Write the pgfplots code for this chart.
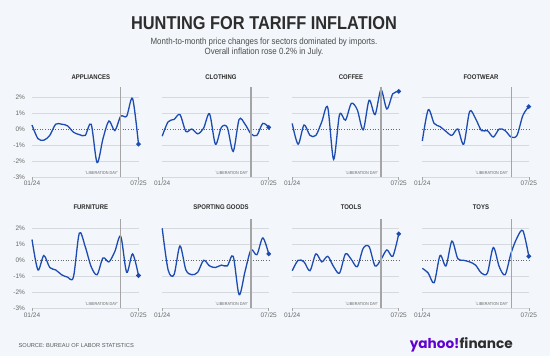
\documentclass[border=0pt]{standalone}
\usepackage{fontspec}
\setmainfont{Liberation Sans}
\newfontfamily\condfont{Liberation Sans}[FakeStretch=0.88]
\newfontfamily\logofont{Poppins}
\usepackage{graphicx}
\usepackage{pgfplots}
\pgfplotsset{compat=1.18}
\usepackage{pgfplotstable}
\definecolor{bg}{RGB}{243,246,250}
\definecolor{lineblue}{RGB}{28,76,178}
\definecolor{gridgray}{RGB}{214,217,222}
\definecolor{ticktext}{RGB}{105,105,105}
\definecolor{titletext}{RGB}{45,45,45}
\definecolor{libgray}{RGB}{165,165,165}
\definecolor{yahoopurple}{RGB}{96,1,210}

\pgfplotstableread{
m app clo cof foo fur spo too toy
0 0.25 -0.45 0.35 -0.75 1.3 2.0 -0.65 -0.5
1 -0.6 0.45 -0.95 1.2 -0.6 -0.6 0 -0.8
2 -0.7 0.6 0.25 0.35 0.3 -0.9 -0.1 -1.4
3 -0.4 0.9 -0.4 0.15 -0.45 0.9 -0.65 0.3
4 0.3 -0.15 -0.4 -0.15 -0.6 -0.6 0.4 -0.35
5 0.3 0 0.45 -0.4 -0.9 -0.9 -0.1 1.2
6 0.2 -0.3 1.35 0 -1.05 -0.75 0.25 0.1
7 -0.2 0.05 -1.9 -0.95 -1.05 0 -0.4 0
8 -0.35 0.95 0.9 1.1 1.7 -0.35 -0.8 -0.1
9 -0.4 -0.95 0.55 0.65 0.85 -0.45 0.4 -0.3
10 0.3 0.1 1.6 -0.1 -0.4 -0.3 0.05 -0.8
11 -2.1 0.1 1.2 -0.1 -0.9 -0.35 -0.4 -0.8
12 -0.6 -1.4 -0.05 -0.5 0.15 0.25 0.75 0.8
13 0.5 0.6 1.8 0 -0.1 -2.15 0.85 -0.4
14 -0.1 0.3 0.9 -0.1 0.55 -0.7 -0.35 -0.9
15 0.8 -0.3 2.45 -0.5 1.5 0.65 0.05 0.45
16 0.8 -0.4 1.25 -0.4 -0.75 0.35 0.65 1.4
17 1.9 0.35 2.2 0.85 0.4 1.4 0.25 1.85
18 -0.95 0.1 2.35 1.4 -0.95 0.4 1.65 0.25
}\data

\pgfplotsset{
  panel/.style={
    scale only axis, width=106.5bp, height=89.6bp,
    anchor=south west,
    xmin=0, xmax=18, ymin=-3, ymax=2.6,
    clip=false,
    axis line style={draw=none},
    tick pos=left,
    xtick={0,18}, xticklabels={01/24,07/25},
    tick align=outside,
    major tick length=2.5bp,
    xtick style={draw=ticktext!60, line width=0.5bp},
    ytick style={draw=none},
    ytick={-3,-2,-1,1,2},
    yticklabels={},
    ymajorgrids,
    grid style={gridgray, line width=0.6bp},
    extra y ticks={0},
    extra y tick labels={},
    extra y tick style={grid style={black!60, dotted, line width=0.7bp}},
    /pgf/number format/assume math mode=true,
    ticklabel style={font=\fontsize{6.5bp}{7bp}\selectfont, text=ticktext},
    xticklabel style={inner sep=1.5bp},
  },
  firstcol/.style={
    yticklabels={-3\%,-2\%,-1\%,1\%,2\%},
    extra y tick labels={0\%},
    yticklabel style={xshift=-1bp},
  },
  series/.style={lineblue, line width=1.3bp, smooth, tension=0.5,
    mark=*, mark indices={19}, mark size=1.6bp, mark options={fill=lineblue, draw=lineblue}},
}

\newcommand{\libday}{%
  \draw[libgray, line width=1.1bp] (axis cs:15,-3) -- (axis cs:15,2.6);
  \node[anchor=east, inner sep=0pt, text=ticktext, font=\condfont\fontsize{4.3bp}{5bp}\selectfont] at (axis cs:14.55,-2.73) {`LIBERATION DAY'};
}

\begin{document}
\begin{tikzpicture}[x=1bp,y=1bp]
\useasboundingbox (0,0) rectangle (550,356);
\fill[bg] (0,0) rectangle (550,356);

% titles
\node[text=titletext, font=\condfont\bfseries\fontsize{18.6bp}{20bp}\selectfont] at (264,333.3) {HUNTING FOR TARIFF INFLATION};
\node[text=black!70, font=\condfont\fontsize{9bp}{10.6bp}\selectfont, align=center] at (264,309) {Month-to-month price changes for sectors dominated by imports.\\Overall inflation rose 0.2\% in July.};

% top row
\begin{axis}[panel, firstcol, at={(32bp,179bp)}]
\addplot[series] table[x=m,y=app] {\data};
\libday
\end{axis}
\begin{axis}[panel, at={(162.2bp,179bp)}]
\addplot[series] table[x=m,y=clo] {\data};
\libday
\end{axis}
\begin{axis}[panel, at={(292.2bp,179bp)}]
\addplot[series] table[x=m,y=cof] {\data};
\libday
\end{axis}
\begin{axis}[panel, at={(422.3bp,179bp)}]
\addplot[series] table[x=m,y=foo] {\data};
\libday
\end{axis}

% bottom row
\begin{axis}[panel, firstcol, at={(32bp,47.7bp)}]
\addplot[series] table[x=m,y=fur] {\data};
\libday
\end{axis}
\begin{axis}[panel, at={(162.2bp,47.7bp)}]
\addplot[series] table[x=m,y=spo] {\data};
\libday
\end{axis}
\begin{axis}[panel, at={(292.2bp,47.7bp)}]
\addplot[series] table[x=m,y=too] {\data};
\libday
\end{axis}
\begin{axis}[panel, at={(422.3bp,47.7bp)}]
\addplot[series] table[x=m,y=toy] {\data};
\libday
\end{axis}

% panel titles
\begin{scope}[every node/.style={text=titletext, font=\condfont\bfseries\fontsize{6.8bp}{8bp}\selectfont}]
\node at (90.8,279.3) {APPLIANCES};
\node at (221,279.3) {CLOTHING};
\node at (351,279.3) {COFFEE};
\node at (481,279.3) {FOOTWEAR};
\node at (90.8,149) {FURNITURE};
\node at (221,149) {SPORTING GOODS};
\node at (351,149) {TOOLS};
\node at (481,149) {TOYS};
\end{scope}

% footer
\node[anchor=west, text=black!65, font=\fontsize{5.7bp}{7bp}\selectfont] at (15,10.3) {SOURCE: BUREAU OF LABOR STATISTICS};
\node[anchor=east, inner sep=0pt] at (513,11) {\resizebox{103bp}{!}{\logofont\bfseries\textcolor{yahoopurple}{yahoo!}\textcolor{titletext}{finance}}};
\end{tikzpicture}
\end{document}
